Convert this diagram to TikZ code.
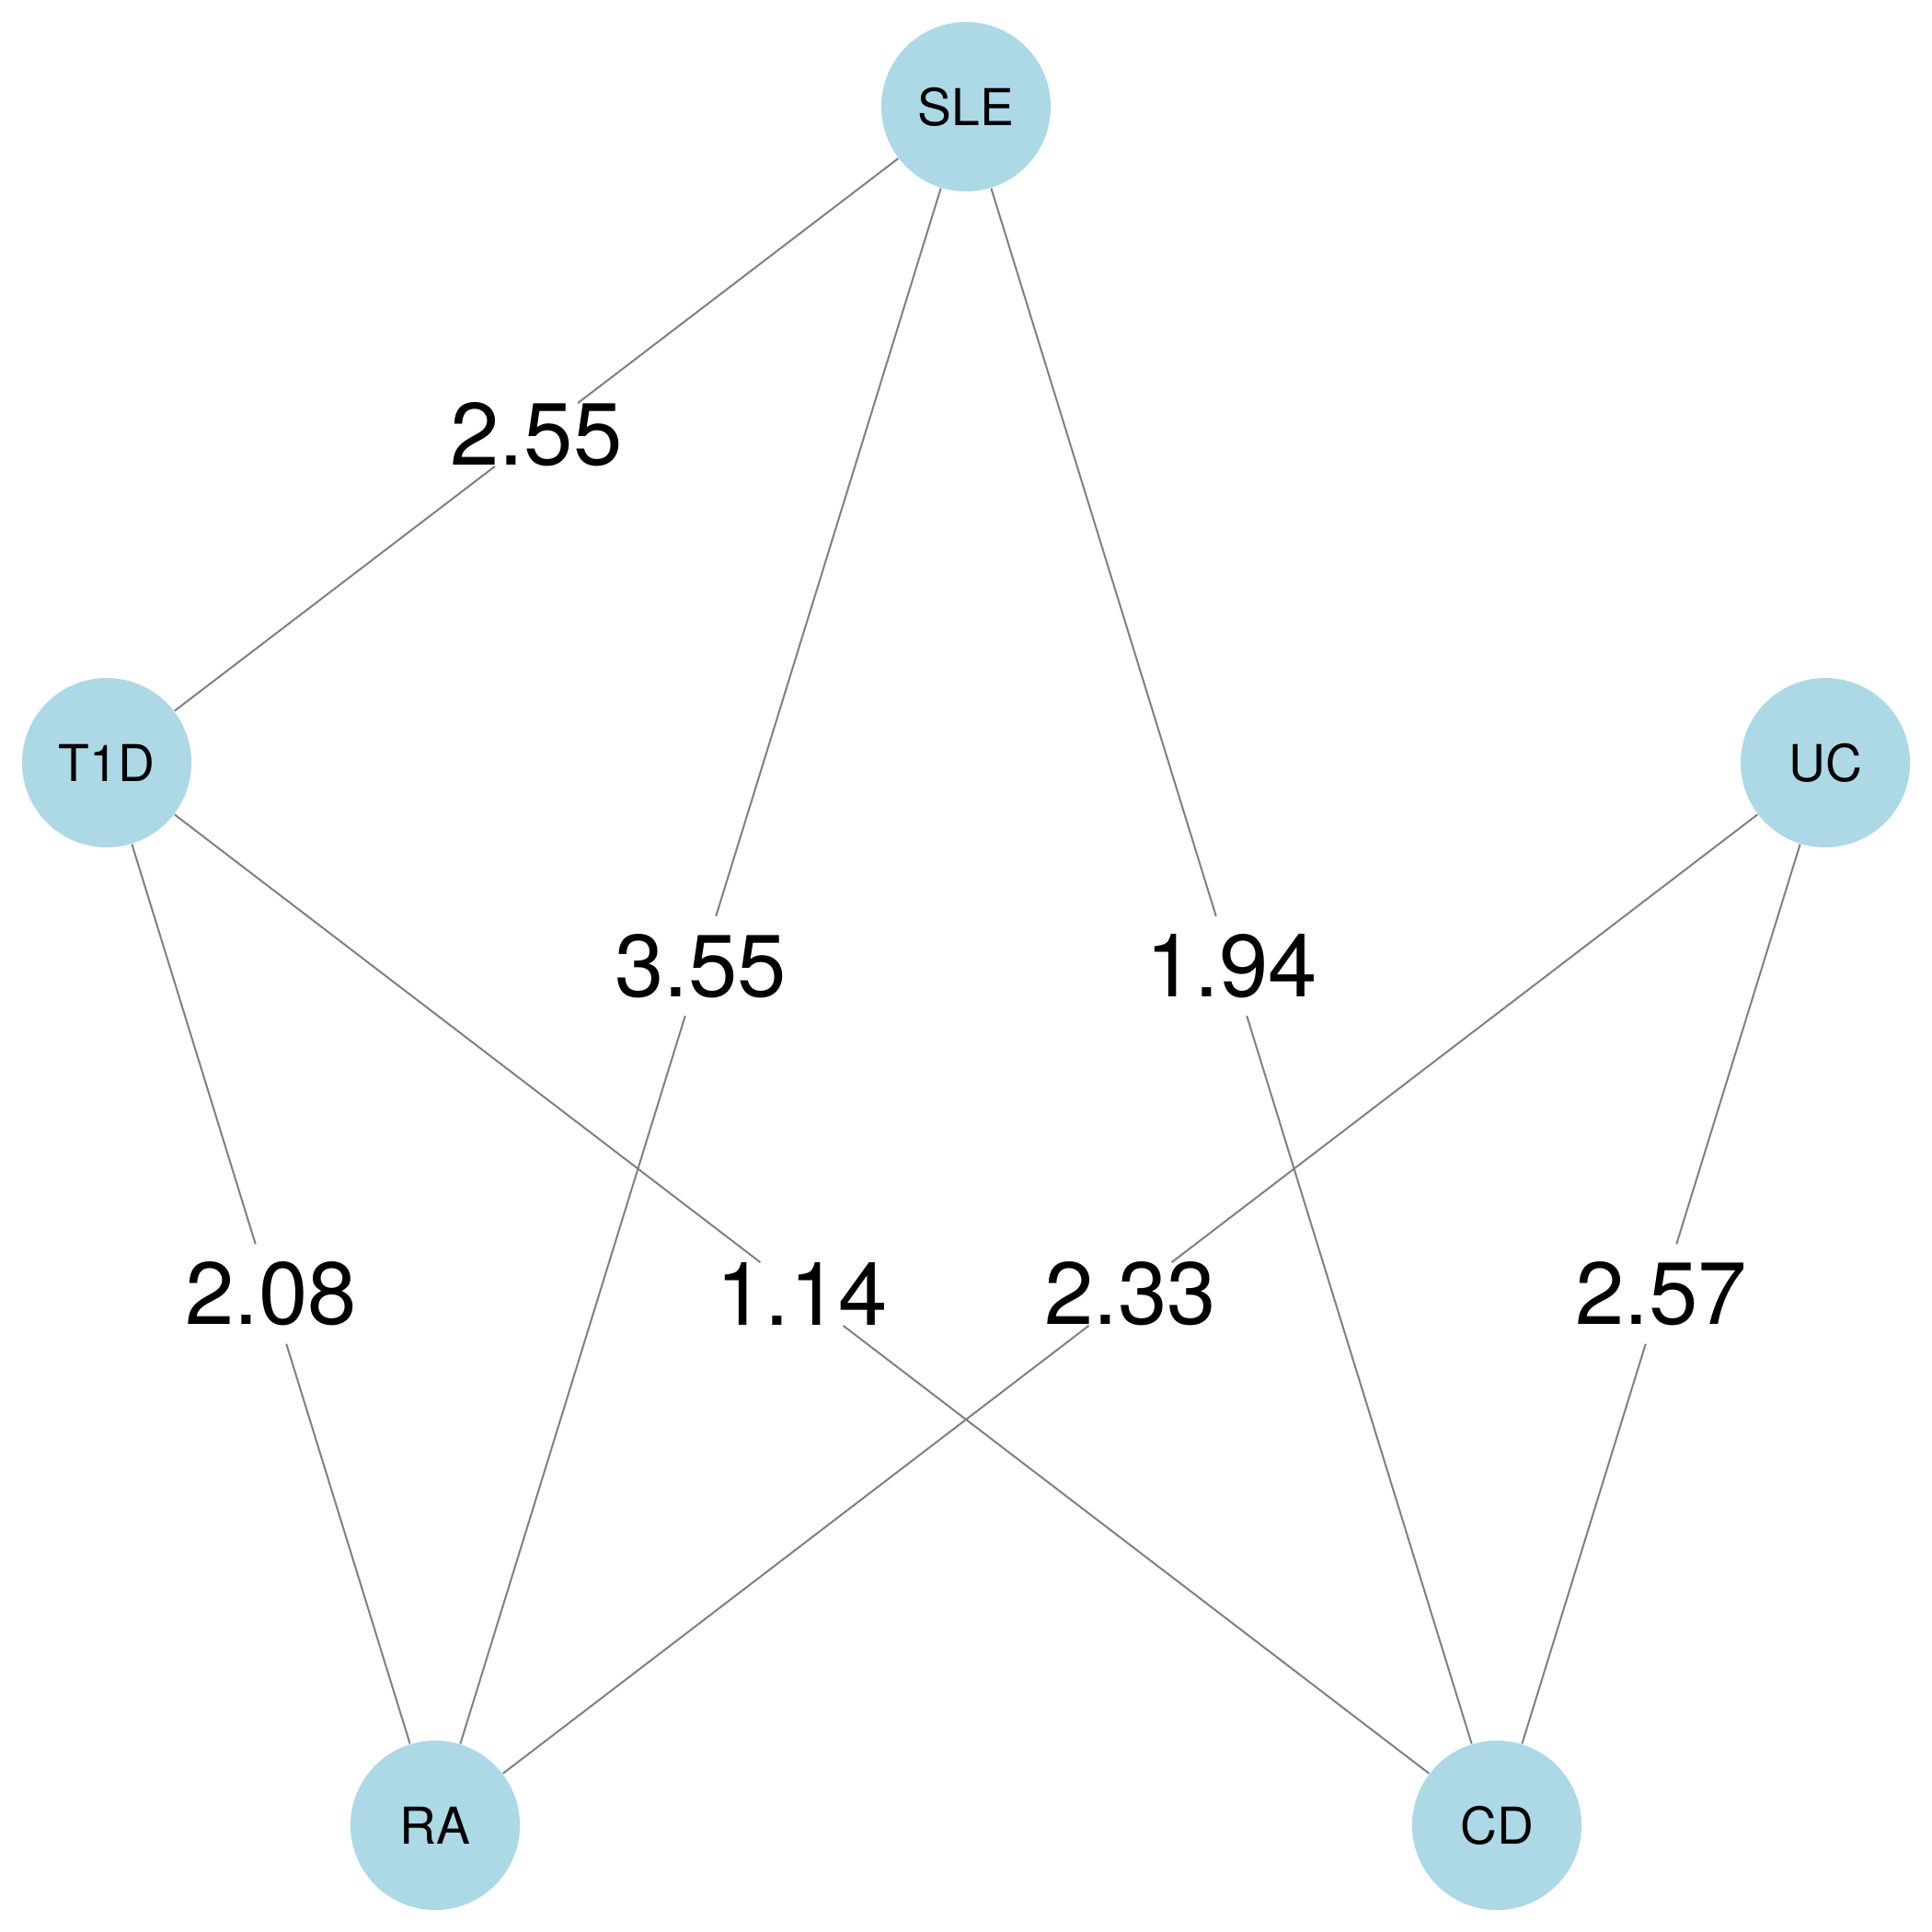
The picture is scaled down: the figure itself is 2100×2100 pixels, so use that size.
\documentclass[tikz,border=0pt]{standalone}
\usepackage{fontspec}
\setmainfont{TeX Gyre Heros}
\usetikzlibrary{calc}
\definecolor{nodeblue}{RGB}{173,216,230}
\definecolor{edgegray}{RGB}{128,128,128}
\begin{document}
\begin{tikzpicture}[x=0.01cm,y=-0.01cm,
  vert/.style={circle,fill=nodeblue,minimum size=1.84cm,inner sep=0pt,font=\fontsize{15.7}{18}\selectfont},
  lblgap/.style={circle,minimum size=1.12cm,inner sep=0pt},
  elabel/.style={inner sep=0pt,font=\fontsize{27.3}{32}\selectfont},
  edgeline/.style={draw=edgegray,line width=0.57pt}]
\useasboundingbox (0,0) rectangle (2100,2100);
\node[vert] (SLE) at (1050,116) {SLE};
\node[vert] (T1D) at (116,829) {T1D};
\node[vert] (UC) at (1984,829) {UC};
\node[vert] (RA) at (473,1984) {RA};
\node[vert] (CD) at (1627,1984) {CD};

\foreach \a/\b/\v/\n in {SLE/T1D/2.55/m1, SLE/RA/3.55/m2, SLE/CD/1.94/m3, T1D/RA/2.08/m4, T1D/CD/1.14/m5, UC/RA/2.33/m6, UC/CD/2.57/m7}{
  \node[lblgap] (\n) at ($(\a)!0.5!(\b)$) {};
  \node[elabel] (\n t) at (\n) {\v};
  \draw[edgeline] (\a) -- (\n) (\n) -- (\b);
}
\end{tikzpicture}
\end{document}
